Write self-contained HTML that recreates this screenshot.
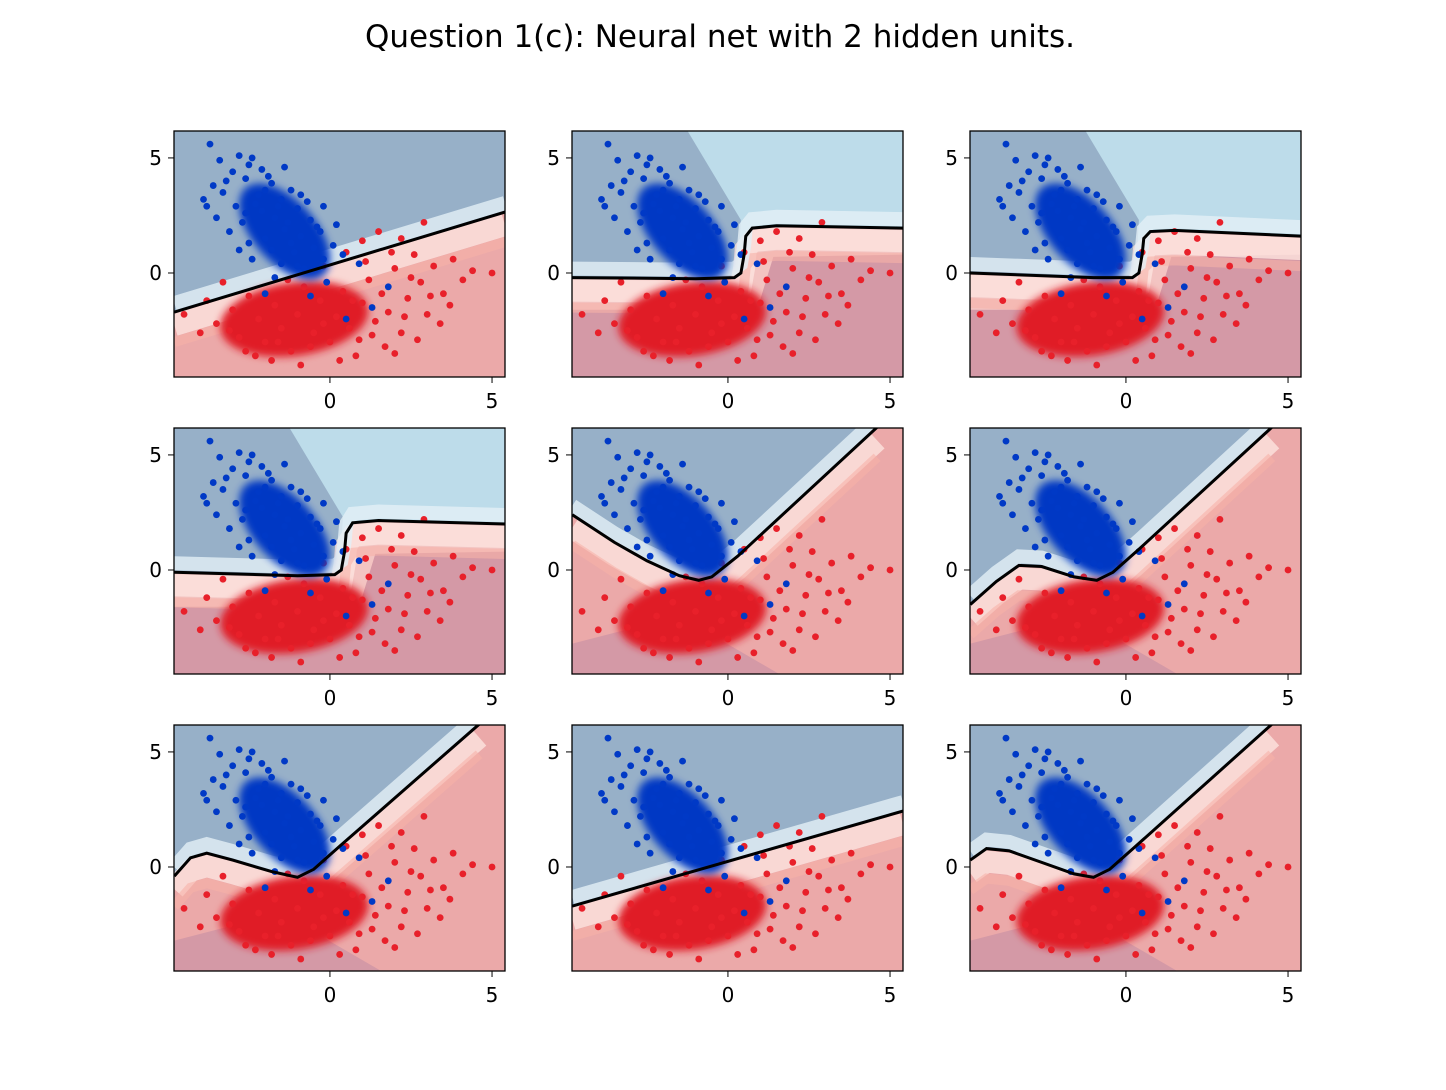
<!DOCTYPE html>
<html><head><meta charset="utf-8"><style>
body{margin:0;background:#fff;}
svg{display:block;font-family:"DejaVu Sans","Liberation Sans",sans-serif;}
</style></head><body>
<svg id="fig" width="1446" height="1090" viewBox="0 0 1446 1090">
<rect width="1446" height="1090" fill="#fff"/>
<text x="720" y="47" font-size="31" text-anchor="middle">Question 1(c): Neural net with 2 hidden units.</text>
</svg>
<script>
const bluePts=[[-3.7,5.6],[-3.4,4.9],[-2.8,5.1],[-2.5,4.7],[-3.0,4.4],[-3.6,3.8],[-3.9,3.2],[-3.3,3.5],[-2.6,4.1],[-2.1,4.5],[-1.8,3.9],[-1.2,3.6],[-1.5,3.2],[-2.2,3.4],[-2.9,2.9],[-3.5,2.4],[-2.7,2.2],[-2.1,2.7],[-1.7,2.4],[-1.0,2.8],[-0.6,2.3],[-0.3,1.8],[-0.9,1.6],[-1.4,1.9],[-2.0,1.5],[-2.5,1.3],[-1.8,1.0],[-1.1,0.9],[-0.5,1.1],[0.1,1.2],[-0.2,0.6],[-1.5,0.4],[-2.4,0.6],[-0.8,0.2],[0.4,0.8],[-3.1,1.8],[-2.3,3.0],[-1.6,2.9],[-0.7,3.1],[-1.9,4.2],[-2.4,5.0],[-1.4,4.6],[-3.8,2.9],[-1.2,1.3],[-0.4,2.0],[0.2,2.1],[-1.0,0.3],[-1.7,-0.2],[0.9,0.4],[-2.8,1.0],[-0.1,-0.4],[1.3,-1.5],[0.5,-2.0],[-0.6,-1.0],[1.8,-0.6],[-2.0,-0.9],[-3.2,4.0],[-2.0,3.6],[-0.9,3.4],[-1.3,2.2],[-2.6,2.6],[-0.2,2.9]];
const redPts=[[-4.5,-1.8],[-3.8,-1.2],[-3.5,-2.2],[-3.0,-1.6],[-2.8,-2.8],[-2.5,-1.0],[-2.2,-2.0],[-2.0,-3.0],[-1.7,-1.4],[-1.5,-2.4],[-1.2,-3.4],[-1.0,-1.8],[-0.8,-0.6],[-0.5,-2.6],[-0.3,-1.2],[0,-3.0],[0.2,-1.9],[0.4,-0.8],[0.6,-2.4],[0.8,-3.6],[1.0,-1.3],[1.2,-0.3],[1.4,-2.1],[1.6,-0.9],[1.8,-1.7],[2.0,0.2],[2.2,-2.6],[2.4,-1.1],[2.6,0.8],[2.8,-0.4],[3.0,-1.8],[3.2,0.3],[3.5,-0.9],[3.8,0.6],[4.1,-0.3],[4.4,0.1],[5.0,0],[-0.2,0.3],[0.5,0.9],[1.0,1.4],[1.5,1.8],[2.2,1.5],[2.9,2.2],[-3.3,-0.4],[-1.8,-3.8],[-0.9,-4.0],[0.3,-3.8],[1.7,-3.2],[2.7,-2.9],[-2.6,-3.4],[-4.0,-2.6],[-1.3,-0.3],[0.9,-2.9],[3.4,-2.2],[1.1,0.5],[-0.6,-3.2],[2.0,-3.5],[3.7,-1.4],[2.5,-0.2],[1.9,0.9],[3.1,-1.0],[-3.1,-2.5],[-2.3,-3.6],[-1.6,-3.0],[-0.2,-2.2],[1.3,-2.7],[2.3,-1.9],[0.7,-1.2]];
// core blobs: cx, cy, rx, ry (data units), rotation deg
const blueCore=[-1.4,1.8,2.0,0.9,48];
const redCore=[-1.1,-2.0,2.3,1.0,-8];
const boundaries=[
 [[-4.8,-1.7],[5.4,2.65]],
 [[-4.8,-0.2],[-1,-0.25],[0.2,-0.2],[0.4,0],[0.5,0.8],[0.55,1.6],[0.75,1.95],[1.5,2.05],[5.4,1.95]],
 [[-4.8,0],[-1,-0.2],[0.2,-0.2],[0.4,0],[0.5,0.8],[0.55,1.5],[0.75,1.8],[1.5,1.85],[5.4,1.6]],
 [[-4.8,-0.1],[-1,-0.25],[0.15,-0.2],[0.35,0],[0.45,0.8],[0.5,1.6],[0.7,2.05],[1.5,2.15],[5.4,2.0]],
 [[-4.8,2.4],[-3.5,1.2],[-2.5,0.4],[-1.5,-0.25],[-0.9,-0.45],[-0.5,-0.3],[0.3,0.6],[4.6,6.2]],
 [[-4.8,-1.5],[-4.0,-0.5],[-3.3,0.2],[-2.6,0.15],[-1.6,-0.3],[-0.9,-0.45],[-0.4,-0.1],[0.4,0.9],[4.5,6.2]],
 [[-4.8,-0.4],[-4.3,0.4],[-3.8,0.6],[-3,0.3],[-1.8,-0.2],[-1.0,-0.45],[-0.5,-0.1],[0.3,0.9],[4.6,6.2]],
 [[-4.8,-1.7],[5.4,2.43]],
 [[-4.8,0.3],[-4.3,0.8],[-3.6,0.7],[-2.6,0.2],[-1.6,-0.3],[-1.0,-0.45],[-0.5,-0.1],[0.3,0.9],[4.5,6.2]]
];
const panelType=['A','B','B','B','C','C','C','A','C'];
const xTicks=[0,5], yTicks=[0,5];
const XMIN=-4.81,XMAX=5.4,YMIN=-4.52,YMAX=6.17;
const cols=[174,572,970], rows=[131,428,725], W=331, H=246;
const NS='http://www.w3.org/2000/svg';
const svg=document.getElementById('fig');
function mk(t,a,p){const e=document.createElementNS(NS,t);for(const k in a)e.setAttribute(k,a[k]);(p||svg).appendChild(e);return e;}
const defs=mk('defs',{});
const f=mk('filter',{id:'soft',x:'-30%',y:'-30%',width:'160%',height:'160%'},defs);
mk('feGaussianBlur',{stdDeviation:4},f);
boundaries.forEach((bd,i)=>{
 const ox=cols[i%3], oy=rows[Math.floor(i/3)];
 const kx=W/(XMAX-XMIN), ky=H/(YMAX-YMIN);
 const sx=x=>ox+(x-XMIN)*kx, sy=y=>oy+(YMAX-y)*ky;
 const g=mk('g',{});
 
 
 const cp=mk('clipPath',{id:'c'+i},g);mk('rect',{x:ox,y:oy,width:W,height:H},cp);
 const pg=mk('g',{'clip-path':'url(#c'+i+')'},g);
 const t=panelType[i];
 const topC=t==='B'?'#bddcea':'#97b0c8', botC=t==='B'?'#f3c4c2':'#eba9a9';
 mk('rect',{x:ox,y:oy,width:W,height:H,fill:topC},pg);
 const poly=pts=>pts.map(p=>sx(p[0])+','+sy(p[1])).join(' ');
 if(t==='B') mk('polygon',{points:poly([[-4.8,6.3],[-1.3,6.3],[0.4,2.3],[0.3,-0.2],[-4.8,-0.2]]),fill:'#97b0c8'},pg);
 const line=bd.map(p=>sx(p[0])+','+sy(p[1])).join(' L');
 const last=bd[bd.length-1];
 const below='M'+line+' L'+sx(Math.max(last[0],5.5))+','+sy(last[1])+' L'+sx(5.5)+','+sy(-5)+' L'+sx(-5)+','+sy(-5)+' Z';
 const bel=mk('path',{d:below,fill:botC},pg);
 
 
 if(t==='B') mk('polygon',{points:poly([[-4.8,-1.6],[0.9,-1.6],[1.4,0.7],[5.5,0.8],[5.5,-4.7],[-4.8,-4.7]]),fill:'#d499a6'},pg);
 if(t==='C') mk('polygon',{points:poly([[-4.8,-3.2],[-1.5,-2.0],[1.8,-4.7],[-4.8,-4.7]]),fill:'#d499a6'},pg);
 mk('path',{d:'M'+line,fill:'none',stroke:'#fde4df',"stroke-width":22,transform:'translate(0,13)',opacity:0.8},pg);
 mk('path',{d:'M'+line,fill:'none',stroke:'#f7b3a8',"stroke-width":10,transform:'translate(0,30)',opacity:0.6},pg);
 mk('path',{d:'M'+line,fill:'none',stroke:'#e4f0f6',"stroke-width":14,transform:'translate(0,-9)',opacity:0.8},pg);
 const rc=mk('ellipse',{cx:sx(redCore[0]),cy:sy(redCore[1]),rx:redCore[2]*kx,ry:redCore[3]*ky*1.6,fill:'#e01a26',filter:'url(#soft)',transform:'rotate('+redCore[4]+' '+sx(redCore[0])+' '+sy(redCore[1])+')'},pg);
 
 
 redPts.forEach(p=>{const c=mk('circle',{cx:sx(p[0]),cy:sy(p[1]),r:3.4,fill:'#e8202a'},pg);
  
  });
 const bc=mk('ellipse',{cx:sx(blueCore[0]),cy:sy(blueCore[1]),rx:blueCore[2]*kx*0.9,ry:blueCore[3]*ky*1.5,fill:'#0038c4',filter:'url(#soft)',transform:'rotate('+blueCore[4]+' '+sx(blueCore[0])+' '+sy(blueCore[1])+')'},pg);
 
 
 bluePts.forEach(p=>{const c=mk('circle',{cx:sx(p[0]),cy:sy(p[1]),r:3.4,fill:'#0039c6'},pg);
  
  });
 const bl=mk('path',{d:'M'+line,fill:'none',stroke:'#000',"stroke-width":3},pg);
 
 
 mk('rect',{x:ox,y:oy,width:W,height:H,fill:'none',stroke:'#000',"stroke-width":1.3},g);
 xTicks.forEach(v=>{mk('line',{x1:sx(v),x2:sx(v),y1:oy+H,y2:oy+H+6,stroke:'#000'},g);
  const tx=mk('text',{x:sx(v),y:oy+H+31,"font-size":20,"text-anchor":"middle"},g);tx.textContent=v;
  
  });
 yTicks.forEach(v=>{mk('line',{x1:ox-6,x2:ox,y1:sy(v),y2:sy(v),stroke:'#000'},g);
  const tx=mk('text',{x:ox-12,y:sy(v)+7,"font-size":20,"text-anchor":"end"},g);tx.textContent=v;
  
  });
});
</script>
</body></html>
